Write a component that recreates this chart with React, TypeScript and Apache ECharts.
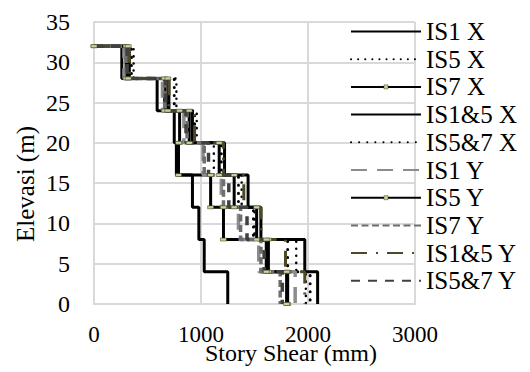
import React, { useEffect, useRef } from "react";
import * as echarts from "echarts";

// Story elevations (m), bottom to top
const elevations = [0, 4, 8, 12, 16, 20, 24, 28, 32];

// Story shear per story (story 1 at bottom -> story 8 at top)
const is1X = [1250, 1030, 980, 920, 770, 750, 590, 260];
const is5X = [1980, 1890, 1500, 1380, 1120, 960, 770, 370];
const is7X = [1810, 1630, 1210, 1090, 790, 800, 660, 300];
const is15X = [2090, 1970, 1560, 1440, 1220, 920, 700, 330];
const is57X = [2020, 1810, 1490, 1350, 1190, 940, 750, 350];
const is1Y = [1880, 1540, 1350, 1190, 1020, 840, 640, 280];
const is5Y = [1800, 1610, 1520, 1310, 1170, 890, 690, 320];
const is7Y = [1740, 1560, 1370, 1210, 1030, 870, 660, 300];
const is15Y = [1970, 1790, 1560, 1400, 1210, 940, 700, 330];
const is57Y = [1760, 1590, 1430, 1260, 1070, 860, 670, 310];

const seriesNames = [
  "IS1 X", "IS5 X", "IS7 X", "IS1&5 X", "IS5&7 X",
  "IS1 Y", "IS5 Y", "IS7 Y", "IS1&5 Y", "IS5&7 Y",
];
const seriesValues = [is1X, is5X, is7X, is15X, is57X, is1Y, is5Y, is7Y, is15Y, is57Y];

const xTicks = [0, 1000, 2000, 3000];
const yTicks = [0, 5, 10, 15, 20, 25, 30, 35];

function steps(vals: number[]) {
  const pts: number[][] = [[0, elevations[elevations.length - 1]]];
  for (let i = vals.length - 1; i >= 0; i--) {
    pts.push([vals[i], elevations[i + 1]]);
    pts.push([vals[i], elevations[i]]);
  }
  return pts;
}

const FONT = "Liberation Serif";

const styles: any[] = [
  { color: "#000000", width: 3, type: "solid" },
  { color: "#000000", width: 2.5, type: [0.1, 7], cap: "round" },
  { color: "#000000", width: 3, type: "solid", marker: true },
  { color: "#000000", width: 3, type: "solid" },
  { color: "#000000", width: 3, type: [0.1, 8], cap: "round" },
  { color: "#8c8c8c", width: 3.5, type: [16, 10] },
  { color: "#000000", width: 3, type: "solid", marker: true },
  { color: "#6e6e6e", width: 3.5, type: [7, 3.5] },
  { color: "#4d4828", width: 3, type: [16, 9, 2, 9] },
  { color: "#404040", width: 3.5, type: [9, 8] },
];

export default function App() {
  const ref = useRef<HTMLDivElement>(null);
  useEffect(() => {
    if (!ref.current) return;
    document.body.style.margin = "0";
    const chart = echarts.init(ref.current, undefined, { renderer: "svg" });
    const series = seriesNames.map((name, i) => {
      const s = styles[i];
      return {
        name,
        type: "line",
        data: steps(seriesValues[i]),
        showSymbol: !!s.marker,
        symbol: s.marker ? "rect" : "none",
        symbolSize: [6, 3],
        itemStyle: s.marker
          ? { color: "#c4d79b", borderColor: "#3a3a20", borderWidth: 0.5 }
          : { color: s.color },
        lineStyle: { color: s.color, width: s.width, type: s.type, cap: s.cap || "butt" },
        color: s.color,
        silent: true,
      };
    });
    const legendData = seriesNames.map((name, i) =>
      styles[i].marker
        ? { name, itemStyle: { color: "#c4d79b", borderColor: "#3a3a20", borderWidth: 0.5 } }
        : { name, itemStyle: { color: "rgba(0,0,0,0)", borderWidth: 0, opacity: 0 } }
    );
    chart.setOption({
      animation: false,
      backgroundColor: "#ffffff",
      grid: { left: 94, right: 115, top: 22, bottom: 68 },
      xAxis: {
        type: "value",
        min: xTicks[0],
        max: xTicks[xTicks.length - 1],
        interval: 1000,
        axisLine: { show: true, lineStyle: { color: "#d9d9d9", width: 2 } },
        axisTick: { show: false },
        axisLabel: {
          fontFamily: FONT, fontSize: 23, color: "#000", margin: 19,
          formatter: (v: number) => String(v),
        },
        splitLine: { show: true, lineStyle: { color: "#d9d9d9", width: 2 } },
      },
      yAxis: {
        type: "value",
        min: yTicks[0],
        max: yTicks[yTicks.length - 1],
        interval: 5,
        axisLine: { show: true, lineStyle: { color: "#d9d9d9", width: 2 } },
        axisTick: { show: false },
        axisLabel: { fontFamily: FONT, fontSize: 24, color: "#000", margin: 24 },
        splitLine: { show: true, lineStyle: { color: "#d9d9d9", width: 2 } },
      },
      legend: {
        orient: "vertical",
        left: 350,
        top: 19,
        padding: 0,
        itemWidth: 70,
        itemHeight: 5,
        itemGap: 2.7,
        data: legendData,
        textStyle: { fontFamily: FONT, fontSize: 25, color: "#000", lineHeight: 24 },
        selectedMode: false,
      },
      graphic: [
        {
          type: "text",
          left: 205,
          top: 341,
          style: { text: "Story Shear (mm)", font: `24px "${FONT}"`, fill: "#000" },
        },
        {
          type: "text",
          x: 13,
          y: 184,
          rotation: Math.PI / 2,
          style: {
            text: "Elevasi (m)",
            font: `25px "${FONT}"`,
            fill: "#000",
            align: "center",
            verticalAlign: "top",
          },
        },
      ],
      series,
    });
    return () => chart.dispose();
  }, []);
  return <div ref={ref} style={{ width: 530, height: 372 }} />;
}
